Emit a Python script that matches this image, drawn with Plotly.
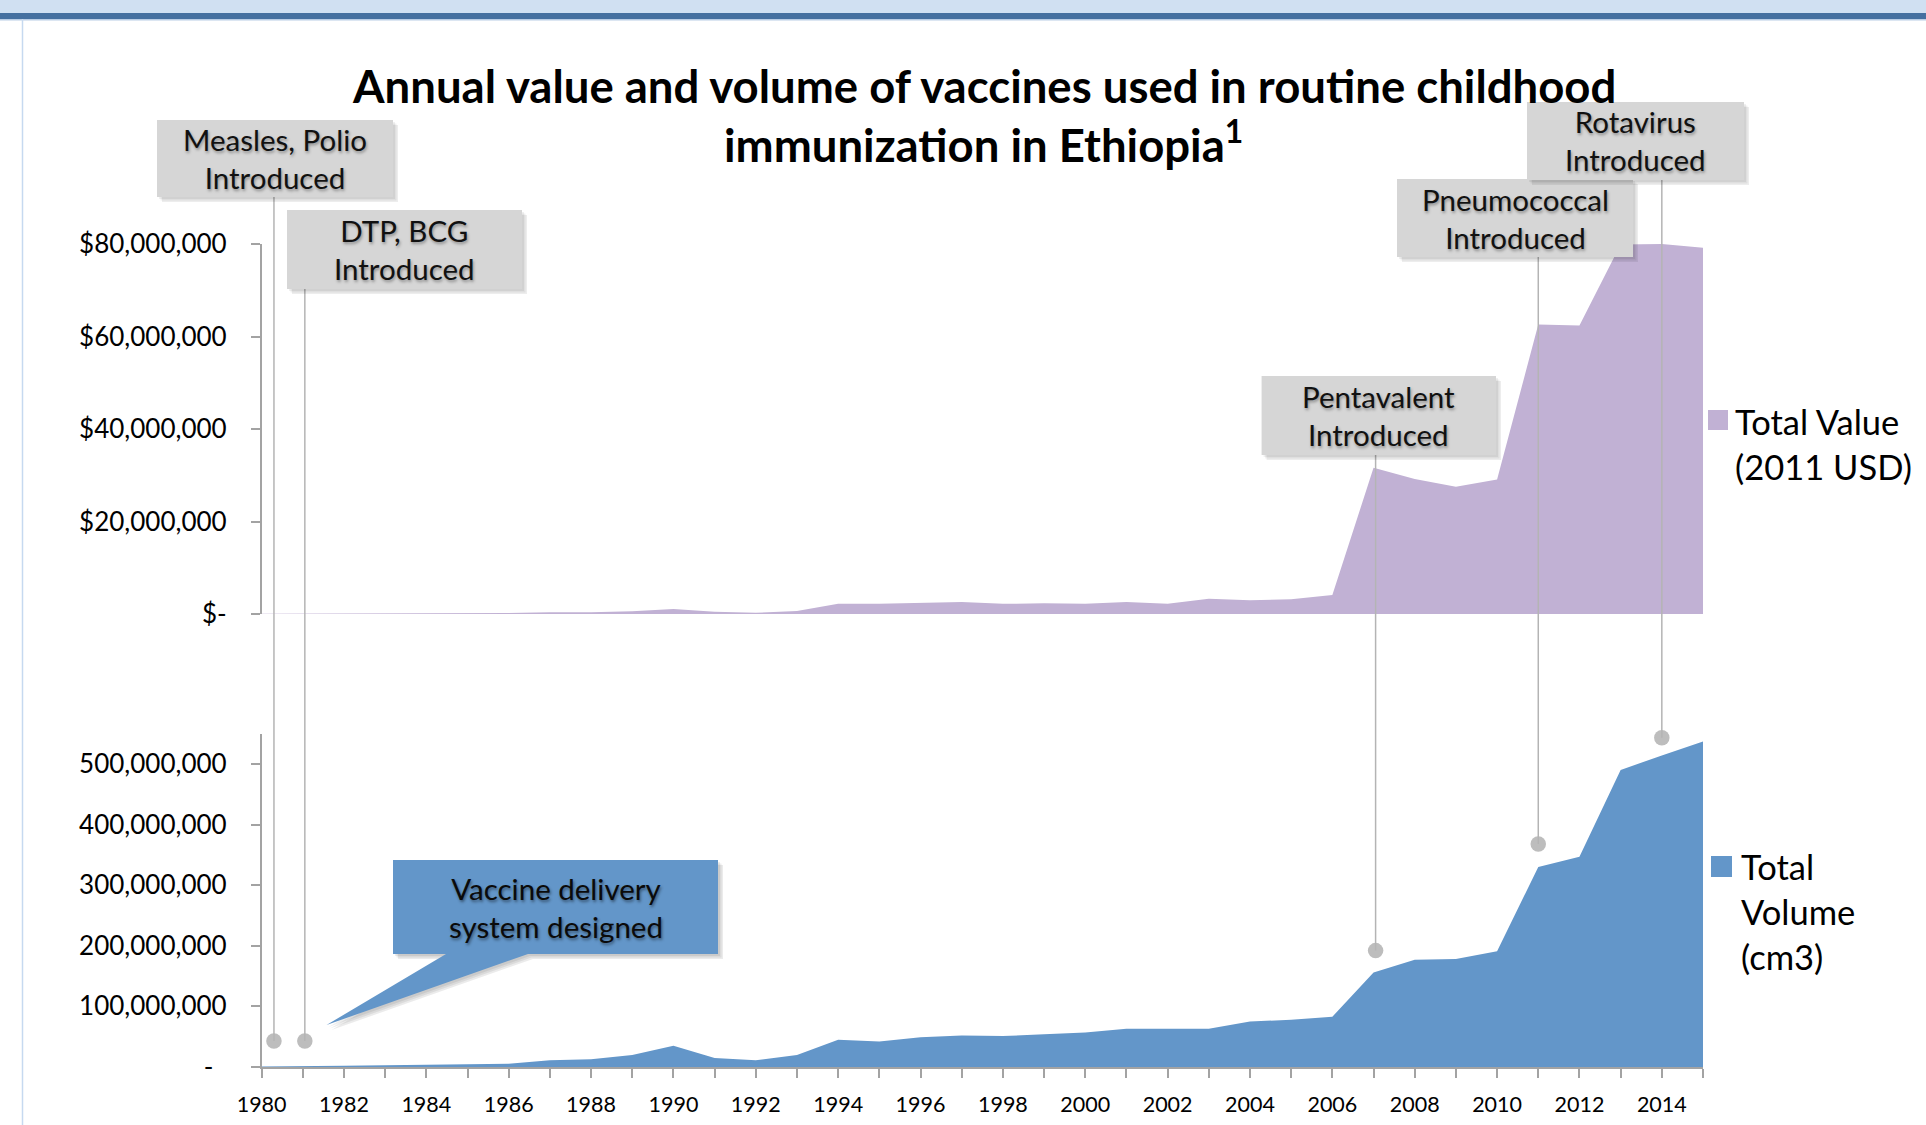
import plotly.graph_objects as go

# ---------------- data ----------------
years = list(range(1980, 2016))
total_value_usd = [0.05e6, 0.05e6, 0.1e6, 0.1e6, 0.15e6, 0.15e6, 0.2e6, 0.4e6, 0.4e6, 0.6e6,
                   1.1e6, 0.5e6, 0.25e6, 0.66e6, 2.2e6, 2.2e6, 2.4e6, 2.6e6, 2.2e6, 2.3e6,
                   2.2e6, 2.6e6, 2.2e6, 3.3e6, 3.0e6, 3.2e6, 4.1e6, 31.6e6, 29.2e6, 27.5e6,
                   29.1e6, 62.6e6, 62.4e6, 79.9e6, 80.0e6, 79.2e6]
total_volume_cm3 = [1e6, 1e6, 2e6, 3e6, 4e6, 5e6, 5.5e6, 11e6, 12.6e6, 20e6,
                    35e6, 15e6, 11e6, 20e6, 45e6, 42e6, 49e6, 52e6, 51e6, 54e6,
                    57e6, 63e6, 63e6, 63e6, 75e6, 78e6, 83e6, 156e6, 177e6, 178e6,
                    191e6, 330e6, 347e6, 490e6, 514e6, 537e6]

value_tickvals = [0, 20e6, 40e6, 60e6, 80e6]
value_ticktext = ["$-", "$20,000,000", "$40,000,000", "$60,000,000", "$80,000,000"]
volume_tickvals = [0, 100e6, 200e6, 300e6, 400e6, 500e6]
volume_ticktext = ["-\u00a0\u00a0", "100,000,000", "200,000,000", "300,000,000",
                   "400,000,000", "500,000,000"]
year_tickvals = list(range(1980, 2015, 2))

event_labels = ["Measles, Polio<br>Introduced", "DTP, BCG<br>Introduced",
                "Pentavalent<br>Introduced", "Pneumococcal<br>Introduced",
                "Rotavirus<br>Introduced"]
event_years = [1980.3, 1981.05, 2007.05, 2011.0, 2014.0]
event_marker_volume = [43e6, 43e6, 192e6, 368e6, 543e6]

title_line1 = "Annual value and volume of vaccines used in routine childhood"
title_line2 = "immunization in Ethiopia<sup>1</sup>"
callout_text = "Vaccine delivery<br>system designed"
legend_value = "Total Value<br>(2011 USD)"
legend_volume = "Total<br>Volume<br>(cm3)"

# ---------------- layout helpers (pixel -> paper) ----------------
W, H = 1926, 1125
def fx(p): return p / W
def fy(p): return 1 - p / H

PURPLE = "#C1B1D4"
BLUE = "#6396C9"
AXIS = "#A3A3A3"
GRAY_LINE = "#B4B4B4"
BOX = "#D6D6D6"
FONT = "Lato"

x_dom = [fx(261.6), fx(1703)]
y_bot_dom = [fy(1067), fy(733.6)]
y_top_dom = [fy(614), fy(244)]
VOL_MAX = 550e6

fig = go.Figure()
fig.add_trace(go.Scatter(x=years, y=total_value_usd, xaxis="x2", yaxis="y2",
                         mode="lines", line=dict(width=0, color=PURPLE),
                         fill="tozeroy", fillcolor=PURPLE, name="Total Value (2011 USD)",
                         showlegend=False))
fig.add_trace(go.Scatter(x=years, y=total_volume_cm3, xaxis="x", yaxis="y",
                         mode="lines", line=dict(width=0, color=BLUE),
                         fill="tozeroy", fillcolor=BLUE, name="Total Volume (cm3)",
                         showlegend=False))

shapes = []
annotations = []

# header band
shapes += [
    dict(type="rect", xref="paper", yref="paper", x0=0, x1=1, y0=fy(13), y1=1,
         fillcolor="#D0E0F2", line_width=0, layer="below"),
    dict(type="rect", xref="paper", yref="paper", x0=0, x1=1, y0=fy(19), y1=fy(13),
         fillcolor="#4570A0", line_width=0, layer="below"),
    dict(type="rect", xref="paper", yref="paper", x0=0, x1=1, y0=fy(20.5), y1=fy(19),
         fillcolor="#B9CDE5", line_width=0, layer="below"),
    dict(type="line", xref="paper", yref="paper", x0=fx(22.5), x1=fx(22.5), y0=0, y1=fy(19),
         line=dict(color="#C6D9F0", width=1.5), layer="below"),
]

# event boxes (pixel boxes)
boxes = [(157, 393, 120, 197), (287, 522, 210, 289), (1261.6, 1496, 376, 455),
         (1397, 1633, 179, 257), (1527, 1744, 102, 180)]

def vol_to_paper(v):
    return y_bot_dom[0] + v / VOL_MAX * (y_bot_dom[1] - y_bot_dom[0])

for (x0, x1, y0, y1), lab, ex, ev in zip(boxes, event_labels, event_years, event_marker_volume):
    shapes.append(dict(type="line", xref="x", yref="paper", x0=ex, x1=ex,
                       y0=fy(y1), y1=vol_to_paper(ev),
                       line=dict(color=GRAY_LINE, width=1.5), layer="above"))
for (x0, x1, y0, y1), lab in zip(boxes, event_labels):
    for i, a in enumerate([0.06, 0.06, 0.07]):
        o = 2 + i * 1.5
        shapes.append(dict(type="rect", xref="paper", yref="paper",
                           x0=fx(x0 + o), x1=fx(x1 + o), y0=fy(y1 + o), y1=fy(y0 + o),
                           fillcolor=f"rgba(0,0,0,{a})", line_width=0, layer="above"))
    shapes.append(dict(type="rect", xref="paper", yref="paper",
                       x0=fx(x0), x1=fx(x1), y0=fy(y1), y1=fy(y0),
                       fillcolor=BOX, line_width=0, layer="above"))
    annotations.append(dict(xref="paper", yref="paper", x=fx((x0 + x1) / 2), y=fy((y0 + y1) / 2),
                            text=lab, showarrow=False, xanchor="center", yanchor="middle",
                            align="center",
                            font=dict(family=FONT, size=29.5, color="#111111",
                                      shadow="1px 2px 3px rgba(0,0,0,0.35)")))

# event dots
fig.add_trace(go.Scatter(x=event_years, y=event_marker_volume, xaxis="x", yaxis="y",
                         mode="markers", marker=dict(size=15.5, color="#BDBDBD"),
                         cliponaxis=False, showlegend=False, hoverinfo="skip"))

# callout
def ppath(pts):
    return "M " + " L ".join(f"{fx(a):.5f},{fy(b):.5f}" for a, b in pts) + " Z"
callout_pts = [(393, 860), (718, 860), (718, 954), (528, 954), (326.5, 1025), (446, 954), (393, 954)]
for i, a in enumerate([0.07, 0.07, 0.08]):
    o = 2 + i * 1.5
    shapes.append(dict(type="path", xref="paper", yref="paper",
                       path=ppath([(p + o, q + o) for p, q in callout_pts]),
                       fillcolor=f"rgba(0,0,0,{a})", line_width=0, layer="above"))
shapes.append(dict(type="path", xref="paper", yref="paper", path=ppath(callout_pts),
                   fillcolor=BLUE, line_width=0, layer="above"))
annotations.append(dict(xref="paper", yref="paper", x=fx(555.5), y=fy(907), text=callout_text,
                        showarrow=False, xanchor="center", yanchor="middle", align="center",
                        font=dict(family=FONT, size=29.5, color="#0a0a0a",
                                  shadow="1px 2px 3px rgba(0,0,0,0.45)")))

# legends
shapes.append(dict(type="rect", xref="paper", yref="paper", x0=fx(1708), x1=fx(1728),
                   y0=fy(430), y1=fy(410), fillcolor=PURPLE, line_width=0))
annotations.append(dict(xref="paper", yref="paper", x=fx(1733), y=fy(443.5), text=legend_value,
                        showarrow=False, xanchor="left", yanchor="middle", align="left",
                        font=dict(family=FONT, size=34.5, color="#000000")))
shapes.append(dict(type="rect", xref="paper", yref="paper", x0=fx(1711), x1=fx(1732),
                   y0=fy(877), y1=fy(856), fillcolor=BLUE, line_width=0))
annotations.append(dict(xref="paper", yref="paper", x=fx(1739), y=fy(911), text=legend_volume,
                        showarrow=False, xanchor="left", yanchor="middle", align="left",
                        font=dict(family=FONT, size=34.5, color="#000000")))

# title
annotations.append(dict(xref="paper", yref="paper", x=fx(984), y=fy(86), text=title_line1,
                        showarrow=False, xanchor="center", yanchor="middle",
                        font=dict(family=FONT, size=45.5, color="#000000", weight="bold")))
annotations.append(dict(xref="paper", yref="paper", x=fx(984), y=fy(142), text=title_line2,
                        showarrow=False, xanchor="center", yanchor="middle",
                        font=dict(family=FONT, size=45.5, color="#000000", weight="bold")))

ytickfont = dict(family=FONT, size=26, color="#000000")
xtickfont = dict(family=FONT, size=21.5, color="#000000")
fig.update_layout(
    width=W, height=H, margin=dict(l=0, r=0, t=0, b=0, pad=0, autoexpand=False),
    paper_bgcolor="white", plot_bgcolor="rgba(0,0,0,0)",
    showlegend=False, shapes=shapes, annotations=annotations,
    xaxis=dict(domain=x_dom, range=[1980, 2015], anchor="y", automargin=False,
               tickvals=year_tickvals, ticktext=[str(v) for v in year_tickvals],
               ticks="outside", ticklen=9, tickcolor=AXIS, tickwidth=1.5,
               minor=dict(dtick=1, tick0=1980, ticks="outside", ticklen=9, tickcolor=AXIS, tickwidth=1.5),
               showline=True, linecolor=AXIS, linewidth=1.5, showgrid=False, zeroline=False,
               tickfont=xtickfont, ticklabelstandoff=8),
    xaxis2=dict(domain=x_dom, range=[1980, 2015], anchor="y2", matches="x", automargin=False,
                showline=False, showticklabels=False, ticks="", showgrid=False, zeroline=False),
    yaxis=dict(domain=y_bot_dom, range=[0, VOL_MAX], anchor="x", automargin=False,
               tickvals=volume_tickvals, ticktext=volume_ticktext,
               ticks="outside", ticklen=9, tickcolor=AXIS, tickwidth=1.5,
               showline=True, linecolor=AXIS, linewidth=1.5, showgrid=False, zeroline=False,
               tickfont=ytickfont, ticklabelstandoff=19),
    yaxis2=dict(domain=y_top_dom, range=[0, 80e6], anchor="x2", automargin=False,
                tickvals=value_tickvals, ticktext=value_ticktext,
                ticks="outside", ticklen=9, tickcolor=AXIS, tickwidth=1.5,
                showline=True, linecolor=AXIS, linewidth=1.5, showgrid=False, zeroline=False,
                tickfont=ytickfont, ticklabelstandoff=19),
)

fig.write_html("out.html", config={"displayModeBar": False},
               post_script="document.body.style.margin='0';document.body.style.overflow='hidden';")
